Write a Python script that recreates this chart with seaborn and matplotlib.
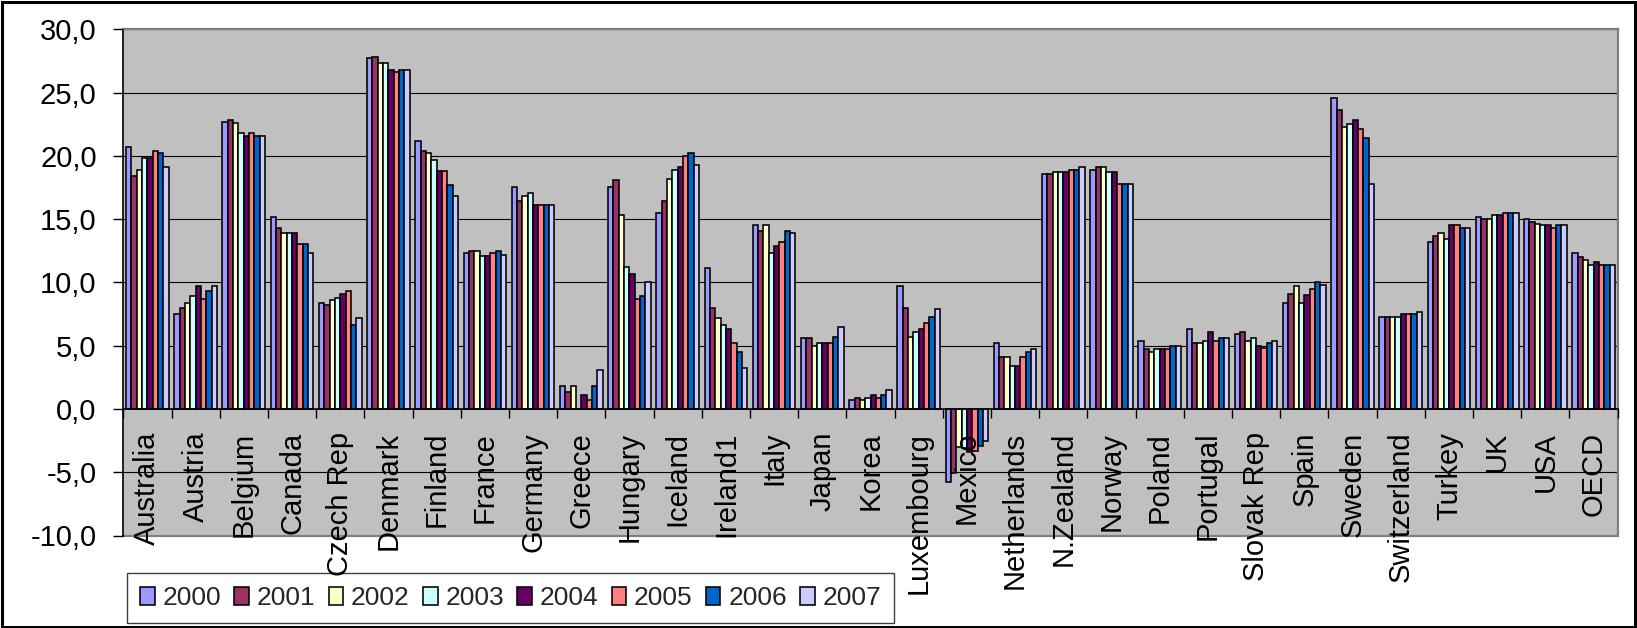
import numpy as np
import pandas as pd
import matplotlib
matplotlib.use("Agg")
import matplotlib.pyplot as plt
import seaborn as sns
from matplotlib.patches import Rectangle
from matplotlib.ticker import FuncFormatter

countries = ["Australia", "Austria", "Belgium", "Canada", "Czech Rep", "Denmark",
             "Finland", "France", "Germany", "Greece", "Hungary", "Iceland",
             "Ireland1", "Italy", "Japan", "Korea", "Luxembourg", "Mexico",
             "Netherlands", "N.Zealand", "Norway", "Poland", "Portugal",
             "Slovak Rep", "Spain", "Sweden", "Switzerland", "Turkey", "UK",
             "USA", "OECD"]
years = ["2000", "2001", "2002", "2003", "2004", "2005", "2006", "2007"]

v2000 = [20.7, 7.5, 22.7, 15.2, 8.4, 27.7, 21.2, 12.3, 17.5, 1.8, 17.5, 15.5,
         11.1, 14.5, 5.6, 0.7, 9.7, -5.8, 5.2, 18.6, 18.9, 5.4, 6.3, 5.9, 8.4,
         24.6, 7.3, 13.2, 15.2, 15.0, 12.3]
v2001 = [18.4, 8.0, 22.8, 14.3, 8.2, 27.8, 20.4, 12.5, 16.4, 1.3, 18.1, 16.4,
         8.0, 14.1, 5.6, 0.9, 8.0, -5.1, 4.1, 18.6, 19.1, 4.7, 5.2, 6.1, 9.1,
         23.6, 7.3, 13.7, 15.0, 14.8, 12.0]
v2002 = [18.9, 8.4, 22.6, 13.9, 8.6, 27.3, 20.2, 12.5, 16.8, 1.8, 15.3, 18.2,
         7.2, 14.5, 5.0, 0.7, 5.7, -3.0, 4.1, 18.7, 19.1, 4.5, 5.2, 5.4, 9.7,
         22.3, 7.3, 13.9, 15.0, 14.6, 11.8]
v2003 = [19.8, 8.9, 21.8, 13.9, 8.8, 27.3, 19.7, 12.1, 17.1, 0.0, 11.2, 18.9,
         6.6, 12.3, 5.2, 0.9, 6.1, -3.1, 3.4, 18.7, 18.7, 4.7, 5.4, 5.6, 8.4,
         22.5, 7.3, 13.4, 15.3, 14.5, 11.4]
v2004 = [19.8, 9.7, 21.6, 13.9, 9.1, 26.8, 18.8, 12.1, 16.1, 1.1, 10.7, 19.1,
         6.3, 12.9, 5.2, 1.1, 6.3, -3.4, 3.4, 18.7, 18.7, 4.7, 6.1, 5.0, 9.0,
         22.8, 7.5, 14.5, 15.3, 14.5, 11.6]
v2005 = [20.4, 8.7, 21.8, 13.0, 9.3, 26.6, 18.8, 12.3, 16.1, 0.7, 8.7, 20.0,
         5.2, 13.2, 5.2, 0.9, 6.8, -3.3, 4.1, 18.9, 17.8, 4.7, 5.4, 4.8, 9.5,
         22.1, 7.5, 14.5, 15.5, 14.3, 11.4]
v2006 = [20.2, 9.3, 21.6, 13.0, 6.6, 26.8, 17.7, 12.5, 16.1, 1.8, 8.9, 20.2,
         4.5, 14.1, 5.7, 1.1, 7.3, -2.9, 4.5, 18.9, 17.8, 5.0, 5.6, 5.2, 10.0,
         21.4, 7.5, 14.3, 15.5, 14.5, 11.4]
v2007 = [19.1, 9.7, 21.6, 12.3, 7.2, 26.8, 16.8, 12.2, 16.1, 3.1, 10.0, 19.3,
         3.2, 13.9, 6.5, 1.5, 7.9, -2.5, 4.7, 19.1, 17.8, 5.0, 5.6, 5.4, 9.8,
         17.8, 7.7, 14.3, 15.5, 14.5, 11.4]

colors = ["#9999FF", "#993366", "#FFFFCC", "#CCFFFF", "#660066", "#FF8080",
          "#0066CC", "#CCCCFF"]

series = [v2000, v2001, v2002, v2003, v2004, v2005, v2006, v2007]
df = pd.DataFrame({
    "country": np.tile(countries, len(years)),
    "year": np.repeat(years, len(countries)),
    "value": np.concatenate(series),
})

sns.set_theme(style="white")
plt.rcParams["font.family"] = ["Liberation Sans", "DejaVu Sans"]

W, H = 1637, 628
fig = plt.figure(figsize=(W / 100, H / 100), dpi=100)
fig.patch.set_facecolor("white")

left, right, top, bottom = 123.3, 1617.7, 29.3, 535.5
ax = fig.add_axes([left / W, 1 - bottom / H, (right - left) / W, (bottom - top) / H])
ax.set_facecolor("#C0C0C0")
ax.set_axisbelow(False)

sns.barplot(data=df, x="country", y="value", hue="year", hue_order=years,
            order=countries, palette=colors, saturation=1, width=0.885, gap=0,
            edgecolor="black", linewidth=1.15, errorbar=None, ax=ax, legend=True)

handles, labels = ax.get_legend_handles_labels()
ax.get_legend().remove()

ax.set_ylim(-10, 30)
ax.set_xlim(-0.5, len(countries) - 0.5)
yt = np.arange(-10, 31, 5)
ax.set_yticks(yt)
ax.yaxis.set_major_formatter(FuncFormatter(lambda v, p: f"{v:.1f}".replace(".", ",")))
for v in yt[1:]:
    if v != 0:
        ax.axhline(v, color="black", lw=0.8, zorder=0.5)
# lower frame edge of the plot area, kept beneath the category labels
ax.axhline(-10, color="#808080", lw=1.6, zorder=2.2, clip_on=False)

ax.set_xlabel("")
ax.set_ylabel("")

# category axis crosses at zero
ax.spines["bottom"].set_position(("data", 0))
ax.spines["bottom"].set_color("black")
ax.spines["bottom"].set_linewidth(1.2)
ax.spines["left"].set_color("black")
ax.spines["left"].set_linewidth(1.2)
for s in ("top", "right"):
    ax.spines[s].set_color("#808080")
    ax.spines[s].set_linewidth(1.6)

ax.set_xticks(np.arange(-0.5, len(countries), 1), minor=True)
ax.tick_params(axis="x", which="major", length=0, pad=16.5, labelsize=21,
               labelrotation=90, colors="black")
ax.tick_params(axis="x", which="minor", length=6.5, width=1.0, direction="out",
               color="black", bottom=True)
ax.tick_params(axis="y", which="major", length=7.2, width=1.0, direction="out",
               pad=12, labelsize=21, left=True, colors="black")
for lbl in ax.get_xticklabels():
    lbl.set_verticalalignment("top")

leg = fig.legend(handles, labels, loc="upper left",
                 bbox_to_anchor=(127 / W, 1 - 573 / H), ncol=8, fontsize=19,
                 frameon=True, fancybox=False, framealpha=1, edgecolor="#404040",
                 borderpad=0.5, handlelength=0.55, handleheight=0.65,
                 handletextpad=0.3, columnspacing=0.5, borderaxespad=0)
# category labels overlap the legend box and stay readable on top of it
leg.set_zorder(-1)

fig.patches.append(Rectangle((1.5 / W, 1.5 / H), 1 - 3.5 / W, 1 - 3.5 / H,
                             transform=fig.transFigure, fill=False,
                             edgecolor="black", lw=2.2, zorder=10))

fig.savefig("out.png", dpi=100)
